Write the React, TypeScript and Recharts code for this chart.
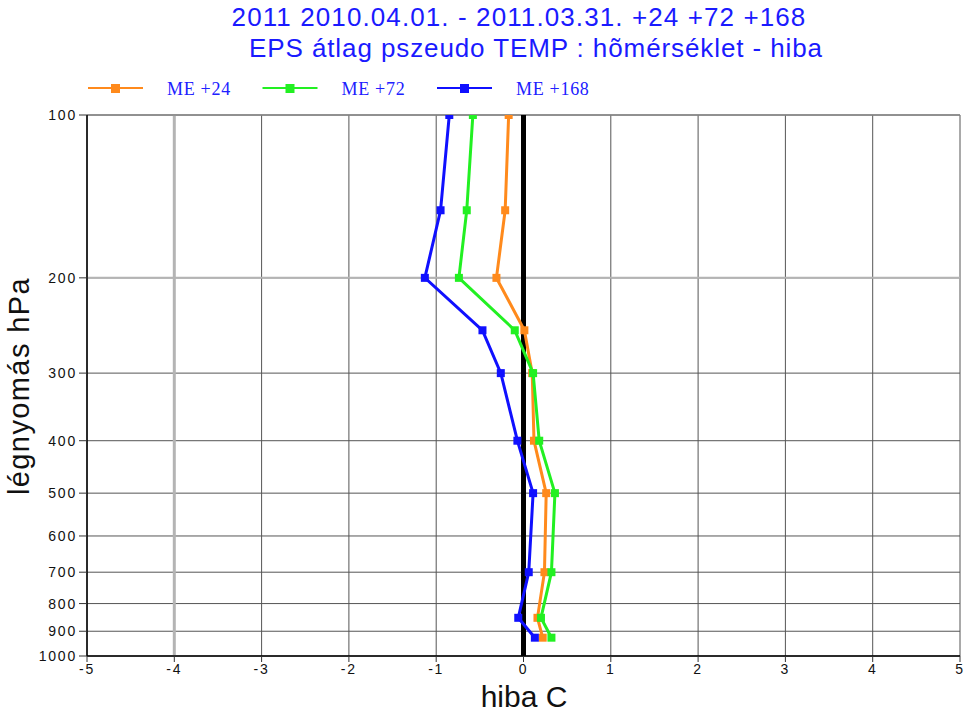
import React from 'react'
import { ScatterChart, Scatter, XAxis, YAxis, CartesianGrid, ReferenceLine } from 'recharts'

// pressure levels (hPa) and mean error (C) per forecast range
const levels = [100, 150, 200, 250, 300, 400, 500, 700, 850, 925]
const me24 = [-0.17, -0.21, -0.31, 0.01, 0.1, 0.12, 0.26, 0.24, 0.16, 0.22]
const me72 = [-0.58, -0.65, -0.74, -0.1, 0.11, 0.18, 0.36, 0.32, 0.2, 0.32]
const me168 = [-0.85, -0.95, -1.13, -0.47, -0.26, -0.07, 0.11, 0.06, -0.06, 0.13]

const seriesNames = ['ME +24', 'ME +72', 'ME +168']
const seriesColors = ['#ff8a1c', '#22f022', '#1010ff']

const xTicks = [-5, -4, -3, -2, -1, 0, 1, 2, 3, 4, 5]
const yTicks = [100, 200, 300, 400, 500, 600, 700, 800, 900, 1000]

const W = 965
const H = 713
const SANS = '"Liberation Sans", Arial, Helvetica, sans-serif'
const SERIF = '"Liberation Serif", "Times New Roman", serif'

export default function App() {
  const series = [me24, me72, me168].map((vals, i) => ({
    name: seriesNames[i],
    color: seriesColors[i],
    data: vals.map((x, j) => ({ x, p: levels[j] })),
  }))

  const tickStyle = { fill: '#111', fontSize: 14, fontFamily: SANS, letterSpacing: 1.8 }

  return (
    <div style={{ position: 'absolute', left: 0, top: 0, width: W, height: H, background: '#fff' }}>
      <ScatterChart width={W} height={H} margin={{ top: 115, right: 5, bottom: 27, left: 0 }}>
        <CartesianGrid stroke="#555" strokeWidth={1} />
        <XAxis
          type="number"
          dataKey="x"
          domain={[-5, 5]}
          ticks={xTicks}
          interval={0}
          tickSize={6}
          height={30}
          allowDataOverflow
          axisLine={{ stroke: '#000', strokeWidth: 1.5 }}
          tickLine={{ stroke: '#333' }}
          tick={tickStyle}
        />
        <YAxis
          type="number"
          dataKey="p"
          scale="log"
          domain={[100, 1000]}
          reversed
          ticks={yTicks}
          interval={0}
          tickSize={8}
          width={87}
          allowDataOverflow
          axisLine={{ stroke: '#000', strokeWidth: 1.5 }}
          tickLine={{ stroke: '#333' }}
          tick={tickStyle}
        />
        <ReferenceLine x={-4} stroke="#b4b4b4" strokeWidth={3} />
        <ReferenceLine y={200} stroke="#b4b4b4" strokeWidth={2} />
        <ReferenceLine y={100} stroke="#888" strokeWidth={1.5} />
        <ReferenceLine x={0} stroke="#000" strokeWidth={5} />
        {series.map((s) => (
          <Scatter
            key={s.name}
            name={s.name}
            data={s.data}
            fill={s.color}
            line={{ stroke: s.color, strokeWidth: 3 }}
            shape={(p: any) => <rect x={p.cx - 4} y={p.cy - 4} width={8} height={8} fill={s.color} />}
            isAnimationActive={false}
          />
        ))}
      </ScatterChart>

      <svg width={W} height={H} style={{ position: 'absolute', left: 0, top: 0, pointerEvents: 'none' }}>
        <text x={519} y={26} textAnchor="middle" fill="#1a1aff" fontFamily={SANS} fontSize={26} letterSpacing={1.1}>
          2011 2010.04.01. - 2011.03.31. +24 +72 +168
        </text>
        <text x={536} y={57} textAnchor="middle" fill="#1a1aff" fontFamily={SANS} fontSize={26} letterSpacing={0.9}>
          EPS átlag pszeudo TEMP : hõmérséklet - hiba
        </text>

        {series.map((s, i) => {
          const x0 = 88 + i * 174.5
          return (
            <g key={s.name}>
              <line x1={x0} x2={x0 + 55} y1={88} y2={88} stroke={s.color} strokeWidth={2} />
              <rect x={x0 + 23} y={84} width={9} height={9} fill={s.color} />
              <text x={x0 + 79} y={95} fill="#2020ff" fontFamily={SERIF} fontSize={18} letterSpacing={0.7}>
                {s.name}
              </text>
            </g>
          )
        })}

        <text x={524} y={707} textAnchor="middle" fill="#111" fontFamily={SANS} fontSize={30}>
          hiba C
        </text>
        <text
          transform="translate(29, 386) rotate(-90)"
          textAnchor="middle"
          fill="#111"
          fontFamily={SANS}
          fontSize={29}
          letterSpacing={1.4}
        >
          légnyomás hPa
        </text>
      </svg>
    </div>
  )
}
